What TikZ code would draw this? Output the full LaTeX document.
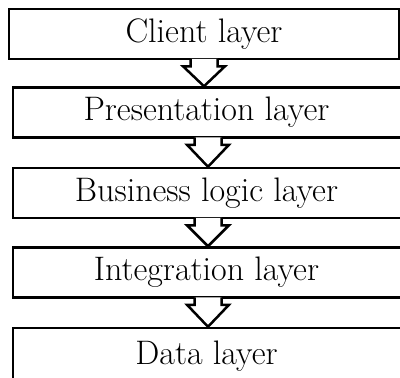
\documentclass[tikz,border=0pt]{standalone}
\usepackage{fontspec}

\begin{document}
\begin{tikzpicture}[
    x=1pt, y=1pt,
    layer/.style={draw, line width=2.5pt, minimum width=390pt, minimum height=50pt,
      inner sep=0pt, font=\fontsize{34}{40}\selectfont},
    open/.style={layer, minimum width=396pt, execute at begin node={\hspace*{-9pt}}},
    flow/.style={draw, fill=white, line width=2.5pt, line join=miter},
  ]
  \path[use as bounding box, clip] (0,0) rectangle (400,-378);
  \fill[white] (0,0) rectangle (400,-378);

  % Layers
  \node [layer] (client)   at (204,-34)    {Client layer};
  \node [open]  (present)  at (211,-112.5) {Presentation layer};
  \node [open]  (business) at (211,-193)   {Business logic layer};
  \node [open]  (integr)   at (211,-272.5) {Integration layer};
  \node [open, minimum height=56pt] (data) at (211,-356) {Data layer};

  % Block arrows between the layers
  \foreach \a/\b/\dx in {client/present/0, present/business/-3,
                         business/integr/-3, integr/data/-3} {
    \draw[flow] ([xshift=\dx pt-13.5pt, yshift=1.5pt]\a.south) -- ++(0,-7.5) -- ++(-7.5,0)
      -- ([xshift=\dx pt]\a.south |- \b.north) -- ([xshift=\dx pt+21pt, yshift=-6pt]\a.south)
      -- ++(-7.5,0) -- ++(0,7.5);
  }
\end{tikzpicture}
\end{document}
